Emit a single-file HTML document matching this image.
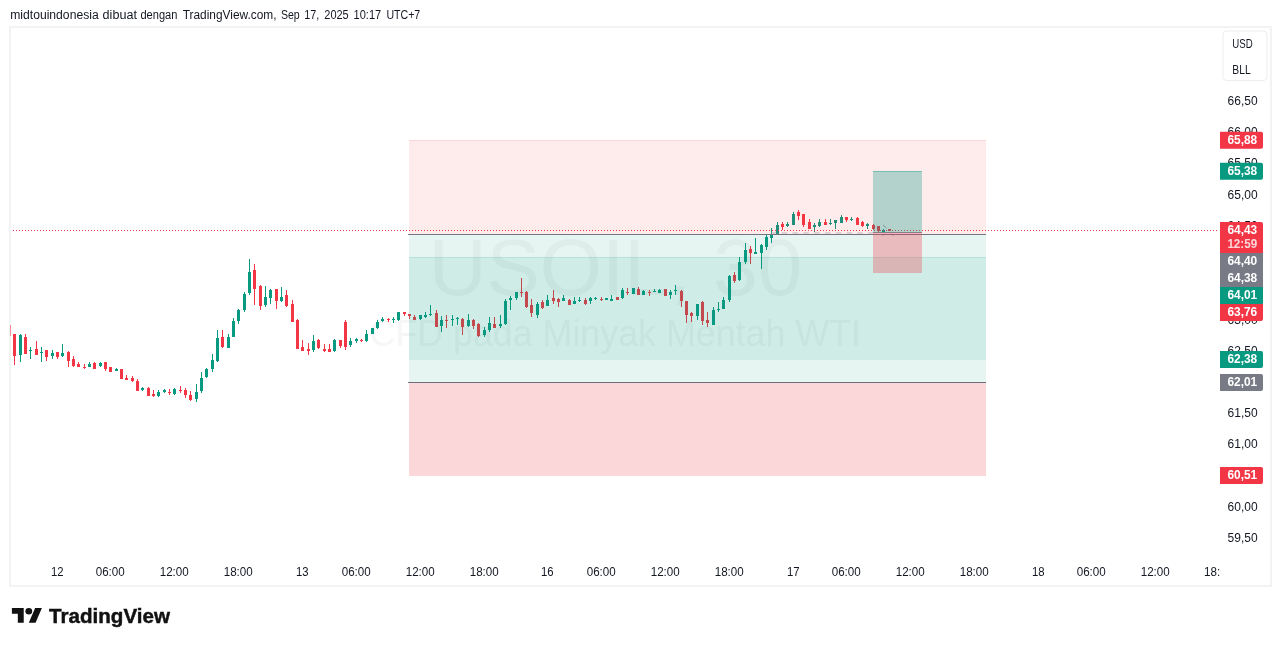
<!DOCTYPE html>
<html lang="id"><head><meta charset="utf-8"><title>USOIL, 30 - TradingView</title>
<style>html,body{margin:0;padding:0;background:#fff;overflow:hidden}svg{display:block}text{font-family:'Liberation Sans', sans-serif;}</style></head><body>
<svg width="1281" height="646" viewBox="0 0 1281 646">
<rect x="0" y="0" width="1281" height="646" fill="#fff"/>
<g font-size="12" fill="#131722">
<text x="10.2" y="19" textLength="88.5" lengthAdjust="spacingAndGlyphs">midtouindonesia</text>
<text x="102.6" y="19" textLength="34.3" lengthAdjust="spacingAndGlyphs">dibuat</text>
<text x="140.4" y="19" textLength="37" lengthAdjust="spacingAndGlyphs">dengan</text>
<text x="182.7" y="19" textLength="93.8" lengthAdjust="spacingAndGlyphs">TradingView.com,</text>
<text x="280.9" y="19" textLength="18.8" lengthAdjust="spacingAndGlyphs">Sep</text>
<text x="304.2" y="19" textLength="15" lengthAdjust="spacingAndGlyphs">17,</text>
<text x="324.3" y="19" textLength="24.4" lengthAdjust="spacingAndGlyphs">2025</text>
<text x="353.6" y="19" textLength="27.6" lengthAdjust="spacingAndGlyphs">10:17</text>
<text x="386.4" y="19" textLength="33.8" lengthAdjust="spacingAndGlyphs">UTC+7</text>
</g>
<rect x="10" y="27" width="1261" height="559" fill="#fff" stroke="#F3F3F3" stroke-width="2" shape-rendering="crispEdges"/>
<defs><clipPath id="pane"><rect x="11" y="28" width="1208" height="557"/></clipPath><clipPath id="taxis"><rect x="11" y="558" width="1209.2" height="27"/></clipPath></defs>
<g fill="#50535E" fill-opacity="0.05" text-anchor="middle">
<text x="615.5" y="295.3" font-size="80">USOIL, 30</text>
<text x="615.2" y="346" font-size="36" textLength="491.5" lengthAdjust="spacingAndGlyphs">CFD pada Minyak Mentah WTI</text>
</g>
<g shape-rendering="crispEdges" clip-path="url(#pane)">
<rect x="14" y="334" width="1" height="31" fill="#F23645"/><rect x="13" y="334" width="3" height="22" fill="#F23645"/>
<rect x="20" y="334" width="1" height="28" fill="#089981"/><rect x="19" y="335" width="3" height="20" fill="#089981"/>
<rect x="25" y="334" width="1" height="20" fill="#F23645"/><rect x="24" y="337" width="3" height="17" fill="#F23645"/>
<rect x="30" y="347" width="1" height="12" fill="#089981"/><rect x="29" y="350" width="3" height="1" fill="#089981"/>
<rect x="36" y="341" width="1" height="14" fill="#F23645"/><rect x="35" y="349" width="3" height="6" fill="#F23645"/>
<rect x="41" y="347" width="1" height="15" fill="#089981"/><rect x="40" y="352" width="3" height="1" fill="#089981"/>
<rect x="46" y="350" width="1" height="11" fill="#F23645"/><rect x="45" y="350" width="3" height="7" fill="#F23645"/>
<rect x="52" y="350" width="1" height="9" fill="#089981"/><rect x="51" y="353" width="3" height="3" fill="#089981"/>
<rect x="57" y="352" width="1" height="7" fill="#F23645"/><rect x="56" y="352" width="3" height="5" fill="#F23645"/>
<rect x="62" y="344" width="1" height="13" fill="#089981"/><rect x="61" y="353" width="3" height="3" fill="#089981"/>
<rect x="68" y="351" width="1" height="16" fill="#F23645"/><rect x="67" y="352" width="3" height="9" fill="#F23645"/>
<rect x="73" y="356" width="1" height="11" fill="#F23645"/><rect x="72" y="359" width="3" height="7" fill="#F23645"/>
<rect x="78" y="362" width="1" height="5" fill="#F23645"/><rect x="77" y="364" width="3" height="3" fill="#F23645"/>
<rect x="84" y="364" width="1" height="5" fill="#F23645"/><rect x="83" y="367" width="3" height="1" fill="#F23645"/>
<rect x="89" y="362" width="1" height="5" fill="#089981"/><rect x="88" y="364" width="3" height="3" fill="#089981"/>
<rect x="94" y="362" width="1" height="7" fill="#F23645"/><rect x="93" y="363" width="3" height="6" fill="#F23645"/>
<rect x="100" y="362" width="1" height="5" fill="#089981"/><rect x="99" y="363" width="3" height="3" fill="#089981"/>
<rect x="105" y="362" width="1" height="9" fill="#F23645"/><rect x="104" y="362" width="3" height="7" fill="#F23645"/>
<rect x="110" y="367" width="1" height="5" fill="#F23645"/><rect x="109" y="367" width="3" height="5" fill="#F23645"/>
<rect x="116" y="368" width="1" height="3" fill="#089981"/><rect x="115" y="369" width="3" height="2" fill="#089981"/>
<rect x="121" y="369" width="1" height="10" fill="#F23645"/><rect x="120" y="369" width="3" height="10" fill="#F23645"/>
<rect x="126" y="375" width="1" height="5" fill="#F23645"/><rect x="125" y="378" width="3" height="2" fill="#F23645"/>
<rect x="132" y="376" width="1" height="6" fill="#F23645"/><rect x="131" y="378" width="3" height="3" fill="#F23645"/>
<rect x="137" y="379" width="1" height="12" fill="#F23645"/><rect x="136" y="381" width="3" height="10" fill="#F23645"/>
<rect x="142" y="387" width="1" height="4" fill="#089981"/><rect x="141" y="388" width="3" height="2" fill="#089981"/>
<rect x="148" y="387" width="1" height="9" fill="#F23645"/><rect x="147" y="388" width="3" height="8" fill="#F23645"/>
<rect x="153" y="390" width="1" height="7" fill="#F23645"/><rect x="152" y="394" width="3" height="2" fill="#F23645"/>
<rect x="158" y="390" width="1" height="7" fill="#089981"/><rect x="157" y="392" width="3" height="4" fill="#089981"/>
<rect x="164" y="389" width="1" height="4" fill="#089981"/><rect x="163" y="390" width="3" height="2" fill="#089981"/>
<rect x="169" y="389" width="1" height="6" fill="#F23645"/><rect x="168" y="392" width="3" height="1" fill="#F23645"/>
<rect x="174" y="388" width="1" height="7" fill="#089981"/><rect x="173" y="389" width="3" height="5" fill="#089981"/>
<rect x="180" y="386" width="1" height="7" fill="#F23645"/><rect x="179" y="390" width="3" height="1" fill="#F23645"/>
<rect x="185" y="388" width="1" height="10" fill="#F23645"/><rect x="184" y="390" width="3" height="5" fill="#F23645"/>
<rect x="190" y="391" width="1" height="10" fill="#F23645"/><rect x="189" y="395" width="3" height="5" fill="#F23645"/>
<rect x="196" y="384" width="1" height="18" fill="#089981"/><rect x="195" y="392" width="3" height="7" fill="#089981"/>
<rect x="201" y="372" width="1" height="21" fill="#089981"/><rect x="200" y="378" width="3" height="13" fill="#089981"/>
<rect x="206" y="368" width="1" height="10" fill="#089981"/><rect x="205" y="369" width="3" height="8" fill="#089981"/>
<rect x="212" y="354" width="1" height="18" fill="#089981"/><rect x="211" y="360" width="3" height="9" fill="#089981"/>
<rect x="217" y="330" width="1" height="32" fill="#089981"/><rect x="216" y="338" width="3" height="23" fill="#089981"/>
<rect x="222" y="330" width="1" height="18" fill="#F23645"/><rect x="221" y="337" width="3" height="10" fill="#F23645"/>
<rect x="228" y="334" width="1" height="14" fill="#089981"/><rect x="227" y="337" width="3" height="11" fill="#089981"/>
<rect x="233" y="318" width="1" height="19" fill="#089981"/><rect x="232" y="321" width="3" height="16" fill="#089981"/>
<rect x="238" y="309" width="1" height="15" fill="#089981"/><rect x="237" y="310" width="3" height="11" fill="#089981"/>
<rect x="244" y="292" width="1" height="20" fill="#089981"/><rect x="243" y="294" width="3" height="16" fill="#089981"/>
<rect x="249" y="259" width="1" height="36" fill="#089981"/><rect x="248" y="272" width="3" height="21" fill="#089981"/>
<rect x="254" y="264" width="1" height="41" fill="#F23645"/><rect x="253" y="270" width="3" height="19" fill="#F23645"/>
<rect x="260" y="285" width="1" height="25" fill="#F23645"/><rect x="259" y="286" width="3" height="20" fill="#F23645"/>
<rect x="265" y="286" width="1" height="21" fill="#089981"/><rect x="264" y="297" width="3" height="8" fill="#089981"/>
<rect x="270" y="289" width="1" height="15" fill="#089981"/><rect x="269" y="290" width="3" height="8" fill="#089981"/>
<rect x="276" y="289" width="1" height="20" fill="#F23645"/><rect x="275" y="289" width="3" height="12" fill="#F23645"/>
<rect x="281" y="287" width="1" height="15" fill="#089981"/><rect x="280" y="297" width="3" height="4" fill="#089981"/>
<rect x="286" y="290" width="1" height="17" fill="#F23645"/><rect x="285" y="295" width="3" height="11" fill="#F23645"/>
<rect x="292" y="300" width="1" height="22" fill="#F23645"/><rect x="291" y="304" width="3" height="18" fill="#F23645"/>
<rect x="297" y="319" width="1" height="30" fill="#F23645"/><rect x="296" y="320" width="3" height="29" fill="#F23645"/>
<rect x="302" y="340" width="1" height="11" fill="#F23645"/><rect x="301" y="347" width="3" height="4" fill="#F23645"/>
<rect x="308" y="343" width="1" height="12" fill="#F23645"/><rect x="307" y="349" width="3" height="2" fill="#F23645"/>
<rect x="313" y="335" width="1" height="17" fill="#089981"/><rect x="312" y="341" width="3" height="9" fill="#089981"/>
<rect x="318" y="339" width="1" height="10" fill="#F23645"/><rect x="317" y="340" width="3" height="8" fill="#F23645"/>
<rect x="324" y="344" width="1" height="8" fill="#F23645"/><rect x="323" y="349" width="3" height="2" fill="#F23645"/>
<rect x="329" y="344" width="1" height="8" fill="#F23645"/><rect x="328" y="349" width="3" height="3" fill="#F23645"/>
<rect x="334" y="339" width="1" height="13" fill="#089981"/><rect x="333" y="340" width="3" height="11" fill="#089981"/>
<rect x="340" y="340" width="1" height="8" fill="#F23645"/><rect x="339" y="340" width="3" height="6" fill="#F23645"/>
<rect x="345" y="320" width="1" height="30" fill="#F23645"/><rect x="344" y="322" width="3" height="25" fill="#F23645"/>
<rect x="350" y="338" width="1" height="9" fill="#089981"/><rect x="349" y="341" width="3" height="4" fill="#089981"/>
<rect x="356" y="338" width="1" height="5" fill="#089981"/><rect x="355" y="339" width="3" height="2" fill="#089981"/>
<rect x="361" y="339" width="1" height="3" fill="#F23645"/><rect x="360" y="340" width="3" height="1" fill="#F23645"/>
<rect x="366" y="330" width="1" height="12" fill="#089981"/><rect x="365" y="334" width="3" height="7" fill="#089981"/>
<rect x="372" y="328" width="1" height="6" fill="#089981"/><rect x="371" y="328" width="3" height="6" fill="#089981"/>
<rect x="377" y="320" width="1" height="9" fill="#089981"/><rect x="376" y="322" width="3" height="6" fill="#089981"/>
<rect x="382" y="317" width="1" height="5" fill="#089981"/><rect x="381" y="319" width="3" height="2" fill="#089981"/>
<rect x="388" y="318" width="1" height="4" fill="#F23645"/><rect x="387" y="319" width="3" height="1" fill="#F23645"/>
<rect x="393" y="317" width="1" height="6" fill="#089981"/><rect x="392" y="319" width="3" height="1" fill="#089981"/>
<rect x="398" y="312" width="1" height="9" fill="#089981"/><rect x="397" y="312" width="3" height="8" fill="#089981"/>
<rect x="404" y="312" width="1" height="4" fill="#F23645"/><rect x="403" y="312" width="3" height="2" fill="#F23645"/>
<rect x="409" y="314" width="1" height="5" fill="#F23645"/><rect x="408" y="314" width="3" height="2" fill="#F23645"/>
<rect x="414" y="315" width="1" height="5" fill="#F23645"/><rect x="413" y="317" width="3" height="3" fill="#F23645"/>
<rect x="420" y="315" width="1" height="5" fill="#089981"/><rect x="419" y="315" width="3" height="4" fill="#089981"/>
<rect x="425" y="312" width="1" height="6" fill="#089981"/><rect x="424" y="315" width="3" height="2" fill="#089981"/>
<rect x="430" y="305" width="1" height="11" fill="#089981"/><rect x="429" y="314" width="3" height="1" fill="#089981"/>
<rect x="436" y="310" width="1" height="17" fill="#F23645"/><rect x="435" y="313" width="3" height="14" fill="#F23645"/>
<rect x="441" y="316" width="1" height="16" fill="#089981"/><rect x="440" y="320" width="3" height="6" fill="#089981"/>
<rect x="446" y="315" width="1" height="13" fill="#F23645"/><rect x="445" y="320" width="3" height="1" fill="#F23645"/>
<rect x="452" y="315" width="1" height="11" fill="#089981"/><rect x="451" y="319" width="3" height="1" fill="#089981"/>
<rect x="457" y="317" width="1" height="8" fill="#089981"/><rect x="456" y="318" width="3" height="1" fill="#089981"/>
<rect x="462" y="318" width="1" height="17" fill="#F23645"/><rect x="461" y="319" width="3" height="8" fill="#F23645"/>
<rect x="468" y="314" width="1" height="13" fill="#089981"/><rect x="467" y="320" width="3" height="6" fill="#089981"/>
<rect x="473" y="319" width="1" height="10" fill="#F23645"/><rect x="472" y="320" width="3" height="6" fill="#F23645"/>
<rect x="478" y="323" width="1" height="14" fill="#F23645"/><rect x="477" y="324" width="3" height="12" fill="#F23645"/>
<rect x="484" y="327" width="1" height="10" fill="#089981"/><rect x="483" y="330" width="3" height="5" fill="#089981"/>
<rect x="489" y="317" width="1" height="15" fill="#089981"/><rect x="488" y="323" width="3" height="7" fill="#089981"/>
<rect x="494" y="317" width="1" height="11" fill="#F23645"/><rect x="493" y="324" width="3" height="4" fill="#F23645"/>
<rect x="500" y="315" width="1" height="13" fill="#089981"/><rect x="499" y="324" width="3" height="2" fill="#089981"/>
<rect x="505" y="299" width="1" height="26" fill="#089981"/><rect x="504" y="301" width="3" height="23" fill="#089981"/>
<rect x="510" y="296" width="1" height="14" fill="#089981"/><rect x="509" y="298" width="3" height="2" fill="#089981"/>
<rect x="516" y="292" width="1" height="8" fill="#089981"/><rect x="515" y="292" width="3" height="6" fill="#089981"/>
<rect x="521" y="278" width="1" height="19" fill="#F23645"/><rect x="520" y="292" width="3" height="1" fill="#F23645"/>
<rect x="526" y="291" width="1" height="17" fill="#F23645"/><rect x="525" y="292" width="3" height="15" fill="#F23645"/>
<rect x="531" y="299" width="1" height="18" fill="#F23645"/><rect x="530" y="305" width="3" height="8" fill="#F23645"/>
<rect x="537" y="302" width="1" height="16" fill="#089981"/><rect x="536" y="304" width="3" height="11" fill="#089981"/>
<rect x="542" y="300" width="1" height="9" fill="#F23645"/><rect x="541" y="302" width="3" height="6" fill="#F23645"/>
<rect x="547" y="295" width="1" height="11" fill="#089981"/><rect x="546" y="300" width="3" height="6" fill="#089981"/>
<rect x="553" y="290" width="1" height="14" fill="#F23645"/><rect x="552" y="298" width="3" height="3" fill="#F23645"/>
<rect x="558" y="298" width="1" height="9" fill="#F23645"/><rect x="557" y="299" width="3" height="3" fill="#F23645"/>
<rect x="563" y="295" width="1" height="6" fill="#089981"/><rect x="562" y="298" width="3" height="3" fill="#089981"/>
<rect x="569" y="299" width="1" height="6" fill="#F23645"/><rect x="568" y="300" width="3" height="5" fill="#F23645"/>
<rect x="574" y="297" width="1" height="7" fill="#089981"/><rect x="573" y="301" width="3" height="3" fill="#089981"/>
<rect x="579" y="297" width="1" height="5" fill="#089981"/><rect x="578" y="300" width="3" height="1" fill="#089981"/>
<rect x="585" y="298" width="1" height="7" fill="#F23645"/><rect x="584" y="300" width="3" height="4" fill="#F23645"/>
<rect x="590" y="297" width="1" height="7" fill="#089981"/><rect x="589" y="298" width="3" height="3" fill="#089981"/>
<rect x="595" y="297" width="1" height="3" fill="#089981"/><rect x="594" y="298" width="3" height="1" fill="#089981"/>
<rect x="601" y="297" width="1" height="4" fill="#F23645"/><rect x="600" y="299" width="3" height="1" fill="#F23645"/>
<rect x="606" y="298" width="1" height="2" fill="#089981"/><rect x="605" y="298" width="3" height="2" fill="#089981"/>
<rect x="611" y="295" width="1" height="6" fill="#089981"/><rect x="610" y="299" width="3" height="2" fill="#089981"/>
<rect x="617" y="297" width="1" height="3" fill="#F23645"/><rect x="616" y="297" width="3" height="3" fill="#F23645"/>
<rect x="622" y="288" width="1" height="11" fill="#089981"/><rect x="621" y="290" width="3" height="8" fill="#089981"/>
<rect x="627" y="288" width="1" height="7" fill="#F23645"/><rect x="626" y="292" width="3" height="1" fill="#F23645"/>
<rect x="633" y="288" width="1" height="6" fill="#089981"/><rect x="632" y="288" width="3" height="6" fill="#089981"/>
<rect x="638" y="287" width="1" height="8" fill="#F23645"/><rect x="637" y="289" width="3" height="6" fill="#F23645"/>
<rect x="643" y="290" width="1" height="5" fill="#089981"/><rect x="642" y="291" width="3" height="4" fill="#089981"/>
<rect x="649" y="290" width="1" height="6" fill="#F23645"/><rect x="648" y="292" width="3" height="1" fill="#F23645"/>
<rect x="654" y="289" width="1" height="3" fill="#089981"/><rect x="653" y="291" width="3" height="1" fill="#089981"/>
<rect x="659" y="289" width="1" height="4" fill="#089981"/><rect x="658" y="290" width="3" height="3" fill="#089981"/>
<rect x="665" y="289" width="1" height="7" fill="#F23645"/><rect x="664" y="289" width="3" height="7" fill="#F23645"/>
<rect x="670" y="290" width="1" height="9" fill="#089981"/><rect x="669" y="292" width="3" height="3" fill="#089981"/>
<rect x="675" y="285" width="1" height="10" fill="#089981"/><rect x="674" y="290" width="3" height="1" fill="#089981"/>
<rect x="681" y="290" width="1" height="17" fill="#F23645"/><rect x="680" y="291" width="3" height="10" fill="#F23645"/>
<rect x="686" y="301" width="1" height="22" fill="#F23645"/><rect x="685" y="301" width="3" height="14" fill="#F23645"/>
<rect x="691" y="312" width="1" height="10" fill="#F23645"/><rect x="690" y="313" width="3" height="3" fill="#F23645"/>
<rect x="697" y="304" width="1" height="16" fill="#089981"/><rect x="696" y="304" width="3" height="12" fill="#089981"/>
<rect x="702" y="301" width="1" height="24" fill="#F23645"/><rect x="701" y="302" width="3" height="19" fill="#F23645"/>
<rect x="707" y="312" width="1" height="15" fill="#F23645"/><rect x="706" y="320" width="3" height="3" fill="#F23645"/>
<rect x="713" y="307" width="1" height="18" fill="#089981"/><rect x="712" y="310" width="3" height="15" fill="#089981"/>
<rect x="718" y="302" width="1" height="10" fill="#089981"/><rect x="717" y="309" width="3" height="1" fill="#089981"/>
<rect x="723" y="297" width="1" height="12" fill="#089981"/><rect x="722" y="300" width="3" height="9" fill="#089981"/>
<rect x="729" y="275" width="1" height="27" fill="#089981"/><rect x="728" y="276" width="3" height="24" fill="#089981"/>
<rect x="734" y="272" width="1" height="11" fill="#F23645"/><rect x="733" y="275" width="3" height="6" fill="#F23645"/>
<rect x="739" y="257" width="1" height="24" fill="#089981"/><rect x="738" y="262" width="3" height="18" fill="#089981"/>
<rect x="745" y="243" width="1" height="21" fill="#089981"/><rect x="744" y="250" width="3" height="12" fill="#089981"/>
<rect x="750" y="246" width="1" height="18" fill="#F23645"/><rect x="749" y="249" width="3" height="4" fill="#F23645"/>
<rect x="755" y="238" width="1" height="16" fill="#089981"/><rect x="754" y="252" width="3" height="2" fill="#089981"/>
<rect x="761" y="244" width="1" height="25" fill="#089981"/><rect x="760" y="245" width="3" height="8" fill="#089981"/>
<rect x="766" y="235" width="1" height="15" fill="#089981"/><rect x="765" y="237" width="3" height="10" fill="#089981"/>
<rect x="771" y="228" width="1" height="15" fill="#089981"/><rect x="770" y="235" width="3" height="3" fill="#089981"/>
<rect x="777" y="222" width="1" height="12" fill="#089981"/><rect x="776" y="225" width="3" height="9" fill="#089981"/>
<rect x="782" y="222" width="1" height="8" fill="#F23645"/><rect x="781" y="224" width="3" height="3" fill="#F23645"/>
<rect x="787" y="222" width="1" height="5" fill="#089981"/><rect x="786" y="224" width="3" height="2" fill="#089981"/>
<rect x="793" y="212" width="1" height="13" fill="#089981"/><rect x="792" y="214" width="3" height="11" fill="#089981"/>
<rect x="798" y="210" width="1" height="10" fill="#F23645"/><rect x="797" y="212" width="3" height="4" fill="#F23645"/>
<rect x="803" y="214" width="1" height="13" fill="#F23645"/><rect x="802" y="214" width="3" height="11" fill="#F23645"/>
<rect x="809" y="219" width="1" height="10" fill="#F23645"/><rect x="808" y="222" width="3" height="7" fill="#F23645"/>
<rect x="814" y="223" width="1" height="9" fill="#089981"/><rect x="813" y="225" width="3" height="2" fill="#089981"/>
<rect x="819" y="219" width="1" height="8" fill="#089981"/><rect x="818" y="222" width="3" height="4" fill="#089981"/>
<rect x="825" y="219" width="1" height="6" fill="#F23645"/><rect x="824" y="222" width="3" height="3" fill="#F23645"/>
<rect x="830" y="219" width="1" height="6" fill="#089981"/><rect x="829" y="223" width="3" height="1" fill="#089981"/>
<rect x="835" y="220" width="1" height="9" fill="#089981"/><rect x="834" y="220" width="3" height="3" fill="#089981"/>
<rect x="841" y="215" width="1" height="8" fill="#089981"/><rect x="840" y="217" width="3" height="6" fill="#089981"/>
<rect x="846" y="217" width="1" height="5" fill="#F23645"/><rect x="845" y="217" width="3" height="3" fill="#F23645"/>
<rect x="851" y="217" width="1" height="4" fill="#089981"/><rect x="850" y="219" width="3" height="1" fill="#089981"/>
<rect x="857" y="217" width="1" height="8" fill="#F23645"/><rect x="856" y="218" width="3" height="7" fill="#F23645"/>
<rect x="862" y="221" width="1" height="6" fill="#F23645"/><rect x="861" y="222" width="3" height="4" fill="#F23645"/>
<rect x="867" y="223" width="1" height="6" fill="#089981"/><rect x="866" y="224" width="3" height="2" fill="#089981"/>
<rect x="873" y="224" width="1" height="6" fill="#F23645"/><rect x="872" y="225" width="3" height="4" fill="#F23645"/>
<rect x="878" y="226" width="1" height="6" fill="#F23645"/><rect x="877" y="226" width="3" height="5" fill="#F23645"/>
<rect x="883" y="229" width="1" height="3" fill="#089981"/><rect x="882" y="230" width="3" height="2" fill="#089981"/>
<rect x="889" y="229" width="1" height="2" fill="#F23645"/><rect x="888" y="229" width="3" height="2" fill="#F23645"/>
</g>
<line x1="13" y1="230.5" x2="1218" y2="230.5" stroke="#F23645" stroke-width="1" stroke-dasharray="1 2" shape-rendering="crispEdges"/>
<rect x="10" y="325" width="1" height="11" fill="#F23645" fill-opacity="0.55" shape-rendering="crispEdges"/>
<g shape-rendering="crispEdges">
<rect x="409" y="140" width="577" height="94" fill="#F23645" fill-opacity="0.1"/>
<rect x="409" y="140" width="577" height="1" fill="#F23645" fill-opacity="0.12"/>
<rect x="409" y="234" width="577" height="148" fill="#089981" fill-opacity="0.1"/>
<rect x="409" y="257" width="577" height="103" fill="#089981" fill-opacity="0.1"/>
<rect x="409" y="257" width="577" height="1" fill="#089981" fill-opacity="0.12"/>
<rect x="409" y="382" width="577" height="94" fill="#F23645" fill-opacity="0.2"/>
<rect x="408" y="234" width="578" height="1" fill="#737681"/>
<rect x="408" y="382" width="578" height="1" fill="#6E717D"/>
</g>
<line x1="771" y1="233" x2="873" y2="233" stroke="#9598A1" stroke-width="1.2" stroke-dasharray="5.4 5.4" stroke-opacity="0.6"/>
<line x1="883" y1="225" x2="886.5" y2="228" stroke="#787B86" stroke-width="1" stroke-opacity="0.7"/>
<line x1="882.5" y1="236" x2="885" y2="233.5" stroke="#787B86" stroke-width="1" stroke-opacity="0.7"/>
<line x1="891" y1="233.5" x2="893.5" y2="236" stroke="#787B86" stroke-width="1" stroke-opacity="0.7"/>
<g shape-rendering="crispEdges">
<rect x="873" y="171" width="49" height="61" fill="#089981" fill-opacity="0.3"/>
<rect x="873" y="171" width="49" height="1" fill="#089981" fill-opacity="0.35"/>
<rect x="873" y="232" width="49" height="41" fill="#F23645" fill-opacity="0.3"/>
<rect x="873" y="232" width="49" height="1" fill="#787B86" fill-opacity="0.9"/>
</g>
<g font-size="12" fill="#131722">
<text x="1227.6" y="105.05" textLength="30" lengthAdjust="spacingAndGlyphs">66,50</text>
<text x="1227.6" y="136.26" textLength="30" lengthAdjust="spacingAndGlyphs">66,00</text>
<text x="1227.6" y="167.48" textLength="30" lengthAdjust="spacingAndGlyphs">65,50</text>
<text x="1227.6" y="198.69" textLength="30" lengthAdjust="spacingAndGlyphs">65,00</text>
<text x="1227.6" y="229.91" textLength="30" lengthAdjust="spacingAndGlyphs">64,50</text>
<text x="1227.6" y="261.12" textLength="30" lengthAdjust="spacingAndGlyphs">64,00</text>
<text x="1227.6" y="292.34" textLength="30" lengthAdjust="spacingAndGlyphs">63,50</text>
<text x="1227.6" y="323.56" textLength="30" lengthAdjust="spacingAndGlyphs">63,00</text>
<text x="1227.6" y="354.77" textLength="30" lengthAdjust="spacingAndGlyphs">62,50</text>
<text x="1227.6" y="385.99" textLength="30" lengthAdjust="spacingAndGlyphs">62,00</text>
<text x="1227.6" y="417.20" textLength="30" lengthAdjust="spacingAndGlyphs">61,50</text>
<text x="1227.6" y="448.42" textLength="30" lengthAdjust="spacingAndGlyphs">61,00</text>
<text x="1227.6" y="479.63" textLength="30" lengthAdjust="spacingAndGlyphs">60,50</text>
<text x="1227.6" y="510.85" textLength="30" lengthAdjust="spacingAndGlyphs">60,00</text>
<text x="1227.6" y="542.06" textLength="30" lengthAdjust="spacingAndGlyphs">59,50</text>
</g>
<path d="M1220 131.8H1261Q1263 131.8 1263 133.8V146.8Q1263 148.8 1261 148.8H1220Z" fill="#F23645"/>
<path d="M1220 162.8H1261Q1263 162.8 1263 164.8V177.8Q1263 179.8 1261 179.8H1220Z" fill="#089981"/>
<path d="M1220 222.1H1261Q1263 222.1 1263 224.1V251.1Q1263 253.1 1261 253.1H1220Z" fill="#F23645"/>
<path d="M1220 253.1H1261Q1263 253.1 1263 255.1V267.9Q1263 269.9 1261 269.9H1220Z" fill="#787B86"/>
<path d="M1220 269.9H1261Q1263 269.9 1263 271.9V285.09999999999997Q1263 287.09999999999997 1261 287.09999999999997H1220Z" fill="#787B86"/>
<path d="M1220 287.1H1261Q1263 287.1 1263 289.1V301.90000000000003Q1263 303.90000000000003 1261 303.90000000000003H1220Z" fill="#089981"/>
<path d="M1220 303.9H1261Q1263 303.9 1263 305.9V318.9Q1263 320.9 1261 320.9H1220Z" fill="#F23645"/>
<path d="M1220 350.9H1261Q1263 350.9 1263 352.9V365.9Q1263 367.9 1261 367.9H1220Z" fill="#089981"/>
<path d="M1220 373.9H1261Q1263 373.9 1263 375.9V388.9Q1263 390.9 1261 390.9H1220Z" fill="#787B86"/>
<path d="M1220 466.9H1261Q1263 466.9 1263 468.9V481.9Q1263 483.9 1261 483.9H1220Z" fill="#F23645"/>
<rect x="1260" y="250" width="3" height="3.1" fill="#F23645"/>
<rect x="1260" y="253.1" width="3" height="3" fill="#787B86"/>
<rect x="1260" y="266" width="3" height="8" fill="#787B86"/>
<rect x="1260" y="284" width="3" height="3.1" fill="#787B86"/>
<rect x="1260" y="287.1" width="3" height="3" fill="#089981"/>
<rect x="1260" y="300" width="3" height="3.9" fill="#089981"/>
<rect x="1260" y="303.9" width="3" height="3" fill="#F23645"/>
<text x="1227.4" y="143.9" font-size="12" font-weight="bold" fill="#fff" fill-opacity="1" textLength="29.8" lengthAdjust="spacingAndGlyphs">65,88</text>
<text x="1227.4" y="174.9" font-size="12" font-weight="bold" fill="#fff" fill-opacity="1" textLength="29.8" lengthAdjust="spacingAndGlyphs">65,38</text>
<text x="1227.4" y="233.7" font-size="12" font-weight="bold" fill="#fff" fill-opacity="1" textLength="29.8" lengthAdjust="spacingAndGlyphs">64,43</text>
<text x="1227.4" y="248.0" font-size="12" font-weight="bold" fill="#fff" fill-opacity="0.8" textLength="29.8" lengthAdjust="spacingAndGlyphs">12:59</text>
<text x="1227.4" y="265.1" font-size="12" font-weight="bold" fill="#fff" fill-opacity="1" textLength="29.8" lengthAdjust="spacingAndGlyphs">64,40</text>
<text x="1227.4" y="282.1" font-size="12" font-weight="bold" fill="#fff" fill-opacity="1" textLength="29.8" lengthAdjust="spacingAndGlyphs">64,38</text>
<text x="1227.4" y="299.1" font-size="12" font-weight="bold" fill="#fff" fill-opacity="1" textLength="29.8" lengthAdjust="spacingAndGlyphs">64,01</text>
<text x="1227.4" y="316.0" font-size="12" font-weight="bold" fill="#fff" fill-opacity="1" textLength="29.8" lengthAdjust="spacingAndGlyphs">63,76</text>
<text x="1227.4" y="363.0" font-size="12" font-weight="bold" fill="#fff" fill-opacity="1" textLength="29.8" lengthAdjust="spacingAndGlyphs">62,38</text>
<text x="1227.4" y="386.0" font-size="12" font-weight="bold" fill="#fff" fill-opacity="1" textLength="29.8" lengthAdjust="spacingAndGlyphs">62,01</text>
<text x="1227.4" y="479.0" font-size="12" font-weight="bold" fill="#fff" fill-opacity="1" textLength="29.8" lengthAdjust="spacingAndGlyphs">60,51</text>
<rect x="1223" y="31" width="44" height="49.6" rx="4" ry="4" fill="#fff" stroke="#EDEDED" stroke-width="1"/>
<text x="1232.3" y="47.6" font-size="12" fill="#131722" textLength="20.4" lengthAdjust="spacingAndGlyphs">USD</text>
<text x="1232.3" y="74" font-size="12" fill="#131722" textLength="18.4" lengthAdjust="spacingAndGlyphs">BLL</text>
<g font-size="12" fill="#131722" text-anchor="middle" clip-path="url(#taxis)">
<text x="57.2" y="576" textLength="12.6" lengthAdjust="spacingAndGlyphs">12</text>
<text x="110.2" y="576" textLength="29" lengthAdjust="spacingAndGlyphs">06:00</text>
<text x="174.2" y="576" textLength="29" lengthAdjust="spacingAndGlyphs">12:00</text>
<text x="238.2" y="576" textLength="29" lengthAdjust="spacingAndGlyphs">18:00</text>
<text x="302.2" y="576" textLength="12.6" lengthAdjust="spacingAndGlyphs">13</text>
<text x="356.2" y="576" textLength="29" lengthAdjust="spacingAndGlyphs">06:00</text>
<text x="420.2" y="576" textLength="29" lengthAdjust="spacingAndGlyphs">12:00</text>
<text x="484.2" y="576" textLength="29" lengthAdjust="spacingAndGlyphs">18:00</text>
<text x="547.2" y="576" textLength="12.6" lengthAdjust="spacingAndGlyphs">16</text>
<text x="601.2" y="576" textLength="29" lengthAdjust="spacingAndGlyphs">06:00</text>
<text x="665.2" y="576" textLength="29" lengthAdjust="spacingAndGlyphs">12:00</text>
<text x="729.2" y="576" textLength="29" lengthAdjust="spacingAndGlyphs">18:00</text>
<text x="793.2" y="576" textLength="12.6" lengthAdjust="spacingAndGlyphs">17</text>
<text x="846.2" y="576" textLength="29" lengthAdjust="spacingAndGlyphs">06:00</text>
<text x="910.2" y="576" textLength="29" lengthAdjust="spacingAndGlyphs">12:00</text>
<text x="974.2" y="576" textLength="29" lengthAdjust="spacingAndGlyphs">18:00</text>
<text x="1038.2" y="576" textLength="12.6" lengthAdjust="spacingAndGlyphs">18</text>
<text x="1091.2" y="576" textLength="29" lengthAdjust="spacingAndGlyphs">06:00</text>
<text x="1155.2" y="576" textLength="29" lengthAdjust="spacingAndGlyphs">12:00</text>
<text x="1218.6" y="576" textLength="29" lengthAdjust="spacingAndGlyphs">18:00</text>
</g>
<g transform="translate(11.9,604.7) scale(0.845,0.825)" fill="#111"><path d="M14 22H7V11H0V4h14v18z"/><path d="M28 22h-8l7.5-18h8L28 22z"/><circle cx="20" cy="8" r="4"/></g>
<text x="49.1" y="622.6" font-size="20" font-weight="bold" fill="#111" stroke="#111" stroke-width="0.45" textLength="120.8" lengthAdjust="spacingAndGlyphs">TradingView</text>
</svg></body></html>
